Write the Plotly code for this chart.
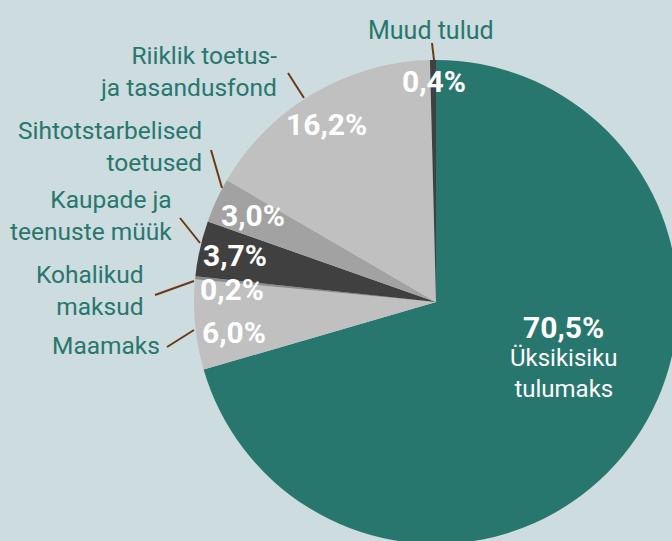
import plotly.graph_objects as go

# ---- data ----
categories = ["Üksikisiku tulumaks", "Maamaks", "Kohalikud maksud", "Kaupade ja teenuste müük",
              "Sihtotstarbelised toetused", "Riiklik toetus- ja tasandusfond", "Muud tulud"]
shares = [70.5, 6.0, 0.2, 3.7, 3.0, 16.2, 0.4]
pct_labels = ["70,5%", "6,0%", "0,2%", "3,7%", "3,0%", "16,2%", "0,4%"]
colors = ["#28776e", "#c0c0c0", "#8c8c8c", "#404040", "#a2a2a2", "#c0c0c0", "#404040"]

W, H = 720, 600
CX, CY, R = 436, 302, 242
BG = "#cddcdf"
TEAL = "#28776e"
BROWN = "#6b3a14"
FONT = "Roboto"


def px(x, y):
    return x / W, 1 - y / H


fig = go.Figure(go.Pie(
    labels=categories, values=shares, sort=False, direction="clockwise", rotation=0,
    marker=dict(colors=colors, line=dict(width=0)), textinfo="none", hoverinfo="label+percent",
    domain=dict(x=[(CX - R) / W, (CX + R) / W], y=[1 - (CY + R) / H, 1 - (CY - R) / H]),
    showlegend=False,
))

annotations = []
# outside category labels (right-aligned)
outside = [
    ("Riiklik toetus-<br>ja tasandusfond", 279, 71.5),
    ("Sihtotstarbelised<br>toetused", 204, 146.5),
    ("Kaupade ja<br>teenuste müük", 174, 215.5),
    ("Kohalikud<br>maksud", 146, 290.5),
    ("Maamaks", 162, 345),
]
for t, x, y in outside:
    xx, yy = px(x, y)
    annotations.append(dict(text=t, x=xx, y=yy, xref="paper", yref="paper", xanchor="right",
                            yanchor="middle", align="right", showarrow=False,
                            font=dict(family=FONT, size=24.5, color=TEAL)))
xx, yy = px(431, 31)
annotations.append(dict(text="Muud tulud", x=xx, y=yy, xref="paper", yref="paper", xanchor="center",
                        yanchor="middle", showarrow=False, font=dict(family=FONT, size=25, color=TEAL)))

# percentage labels
pct_pos = [(563, 327), (234, 332), (232, 289), (235, 255), (253, 215), (326, 124), (434, 81)]
for t, (x, y) in zip(pct_labels, pct_pos):
    xx, yy = px(x, y)
    annotations.append(dict(text=f"<b>{t}</b>", x=xx, y=yy, xref="paper", yref="paper",
                            xanchor="center", yanchor="middle", showarrow=False,
                            font=dict(family=FONT, size=30, color="white")))
xx, yy = px(564, 373.5)
annotations.append(dict(text="Üksikisiku<br>tulumaks", x=xx, y=yy, xref="paper", yref="paper",
                        xanchor="center", yanchor="middle", align="center", showarrow=False,
                        font=dict(family=FONT, size=24, color="white")))

# leader lines
leaders = [((288, 73), (304, 98)), ((211, 150), (222, 188)), ((180, 218), (200, 243)),
           ((155, 295), (194, 281)), ((167, 347), (194, 330)), ((432, 43), (434, 60))]
shapes = []
for (x0, y0), (x1, y1) in leaders:
    a, b = px(x0, y0)
    c, d = px(x1, y1)
    shapes.append(dict(type="line", xref="paper", yref="paper", x0=a, y0=b, x1=c, y1=d,
                       line=dict(color=BROWN, width=2)))

fig.update_layout(width=W, height=H, margin=dict(l=0, r=0, t=0, b=0), paper_bgcolor=BG,
                  plot_bgcolor=BG, annotations=annotations, shapes=shapes)

fig.write_html("out.html", include_plotlyjs=True, config={"displayModeBar": False},
               post_script="document.body.style.margin='0';document.body.style.overflow='hidden';"
                           "document.documentElement.style.overflow='hidden';")
